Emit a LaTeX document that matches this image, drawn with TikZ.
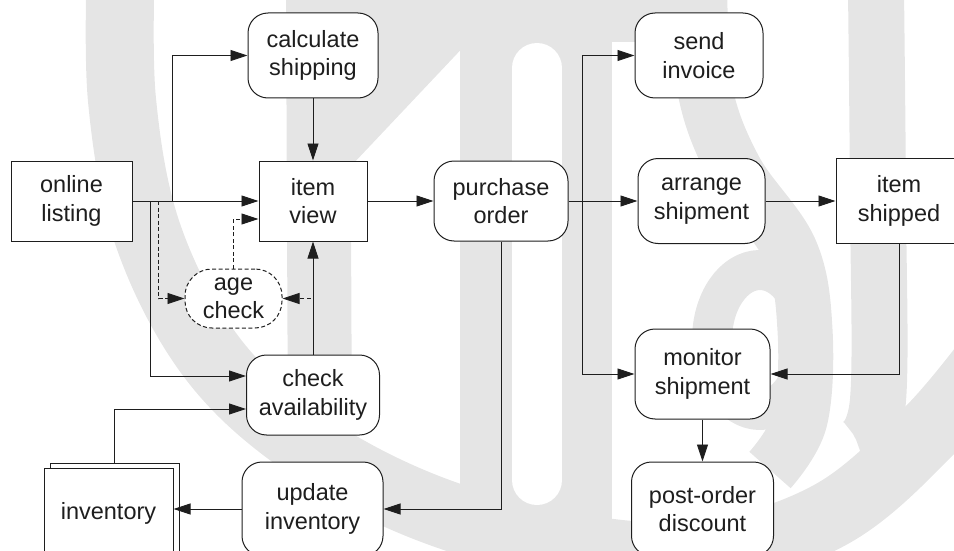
\documentclass[tikz,border=0pt]{standalone}
\usepackage{fontspec}
\setmainfont{Liberation Sans}
\usetikzlibrary{arrows.meta,calc}
\definecolor{wmgray}{RGB}{229,229,229}
\definecolor{ink}{RGB}{30,30,30}
\begin{document}
\begin{tikzpicture}[x=1pt,y=-1pt,
  every node/.style={font=\fontsize{23.5}{28.3}\selectfont, text=ink, align=center, inner sep=0pt},
  boxr/.style={draw=ink, line width=1pt, fill=white, rounded corners=20pt},
  boxs/.style={draw=ink, line width=1pt, fill=white},
  conn/.style={draw=ink, line width=0.9pt, -{Triangle[length=17pt,width=11pt]}},
  dconn/.style={conn, dash pattern=on 4pt off 2.5pt},
  wm/.style={draw=wmgray, line join=round}]
\useasboundingbox (0,0) rectangle (954,551);
% watermark
\begin{scope}
\clip (0,0) rectangle (954,551);
\draw[wm, line width=68pt] plot[smooth, tension=0.6] coordinates {(121,-40) (122,100) (148,235) (210,355) (300,440) (420,505) (560,545) (700,555) (830,515) (930,430) (1000,345)};
\draw[wm, line width=64pt] (318,-10) -- (320,450);
\fill[wmgray] (345,-5) -- (470,-5) -- (470,40) -- (352,165) -- (345,165) -- cycle;
\fill[wmgray] (460,-5) rectangle (612,520);
\fill[wmgray] (600,-5) rectangle (700,42);
\draw[white, line width=50pt, line cap=round] (537,68) -- (537,480);
\draw[wm, line width=55pt] plot[smooth, tension=0.6] coordinates {(700,-10) (705,90) (735,170) (790,250) (805,330) (800,420) (770,470)};
\draw[wm, line width=40pt] (760,340) ellipse [x radius=48, y radius=70];
\draw[wm, line width=56pt] plot[smooth, tension=0.6] coordinates {(876,-10) (878,200) (878,400) (858,445)};
\end{scope}
% nodes
\node[boxs, minimum width=121pt, minimum height=80pt] (online) at (71.5,201) {online\\listing};
\node[boxr, minimum width=130pt, minimum height=85pt] (calc) at (313,55.5) {calculate\\shipping};
\node[boxs, minimum width=108pt, minimum height=80pt] (itemview) at (313,201) {item\\view};
\node[boxr, minimum width=134pt, minimum height=80pt] (purchase) at (501,201) {purchase\\order};
\node[boxr, minimum width=128pt, minimum height=85pt] (send) at (699,55.5) {send\\invoice};
\node[boxr, minimum width=127pt, minimum height=85pt] (arrange) at (701.5,201) {arrange\\shipment};
\node[boxs, minimum width=126pt, minimum height=85pt] (shipped) at (899,201) {item\\shipped};
\node[boxr, dash pattern=on 4pt off 2.5pt, rounded corners=27pt, minimum width=97pt, minimum height=59pt] (age) at (233.5,298.5) {age\\check};
\node[boxr, minimum width=133pt, minimum height=80pt] (checkav) at (313,395) {check\\availability};
\node[boxr, minimum width=141pt, minimum height=94pt] (updinv) at (312.5,509) {update\\inventory};
\node[boxs, minimum width=129pt, minimum height=90pt] (invback) at (114.5,508) {};
\node[boxs, minimum width=129pt, minimum height=90pt] (inv) at (108.5,513) {inventory};
\node[boxr, minimum width=135pt, minimum height=90pt] (monitor) at (702.5,374) {monitor\\shipment};
\node[boxr, minimum width=142pt, minimum height=94pt] (postorder) at (702.5,509) {post-order\\discount};
% junctions
\coordinate (j1) at (172,201);
\coordinate (j2) at (150,201);
\coordinate (j3) at (158.7,201);
\coordinate (j4) at (582,201);
% connectors
\draw[conn] (online.east) -- (itemview.west);
\draw[conn] (j1) |- (calc.west);
\draw[conn] (calc.south) -- (itemview.north);
\draw[conn] (j2) |- ([yshift=19pt]checkav.west);
\draw[dconn] (j3) |- (age.west);
\draw[dconn] (age.north) |- ([yshift=-18pt]itemview.west);
\draw[conn] (checkav.north) -- (itemview.south);
\draw[dconn] (checkav.north) |- (age.east);
\draw[conn] (itemview.east) -- (purchase.west);
\draw[conn] (purchase.east) -- (arrange.west);
\draw[conn] (j4) |- (send.west);
\draw[conn] (j4) |- (monitor.west);
\draw[conn] (purchase.south) |- (updinv.east);
\draw[conn] (arrange.east) -- (shipped.west);
\draw[conn] (shipped.south) |- (monitor.east);
\draw[conn] (monitor.south) -- (postorder.north);
\draw[conn] (updinv.west) -- (updinv.west -| inv.east);
\draw[conn] (invback.north) |- ([yshift=-14pt]checkav.west);
\end{tikzpicture}
\end{document}
